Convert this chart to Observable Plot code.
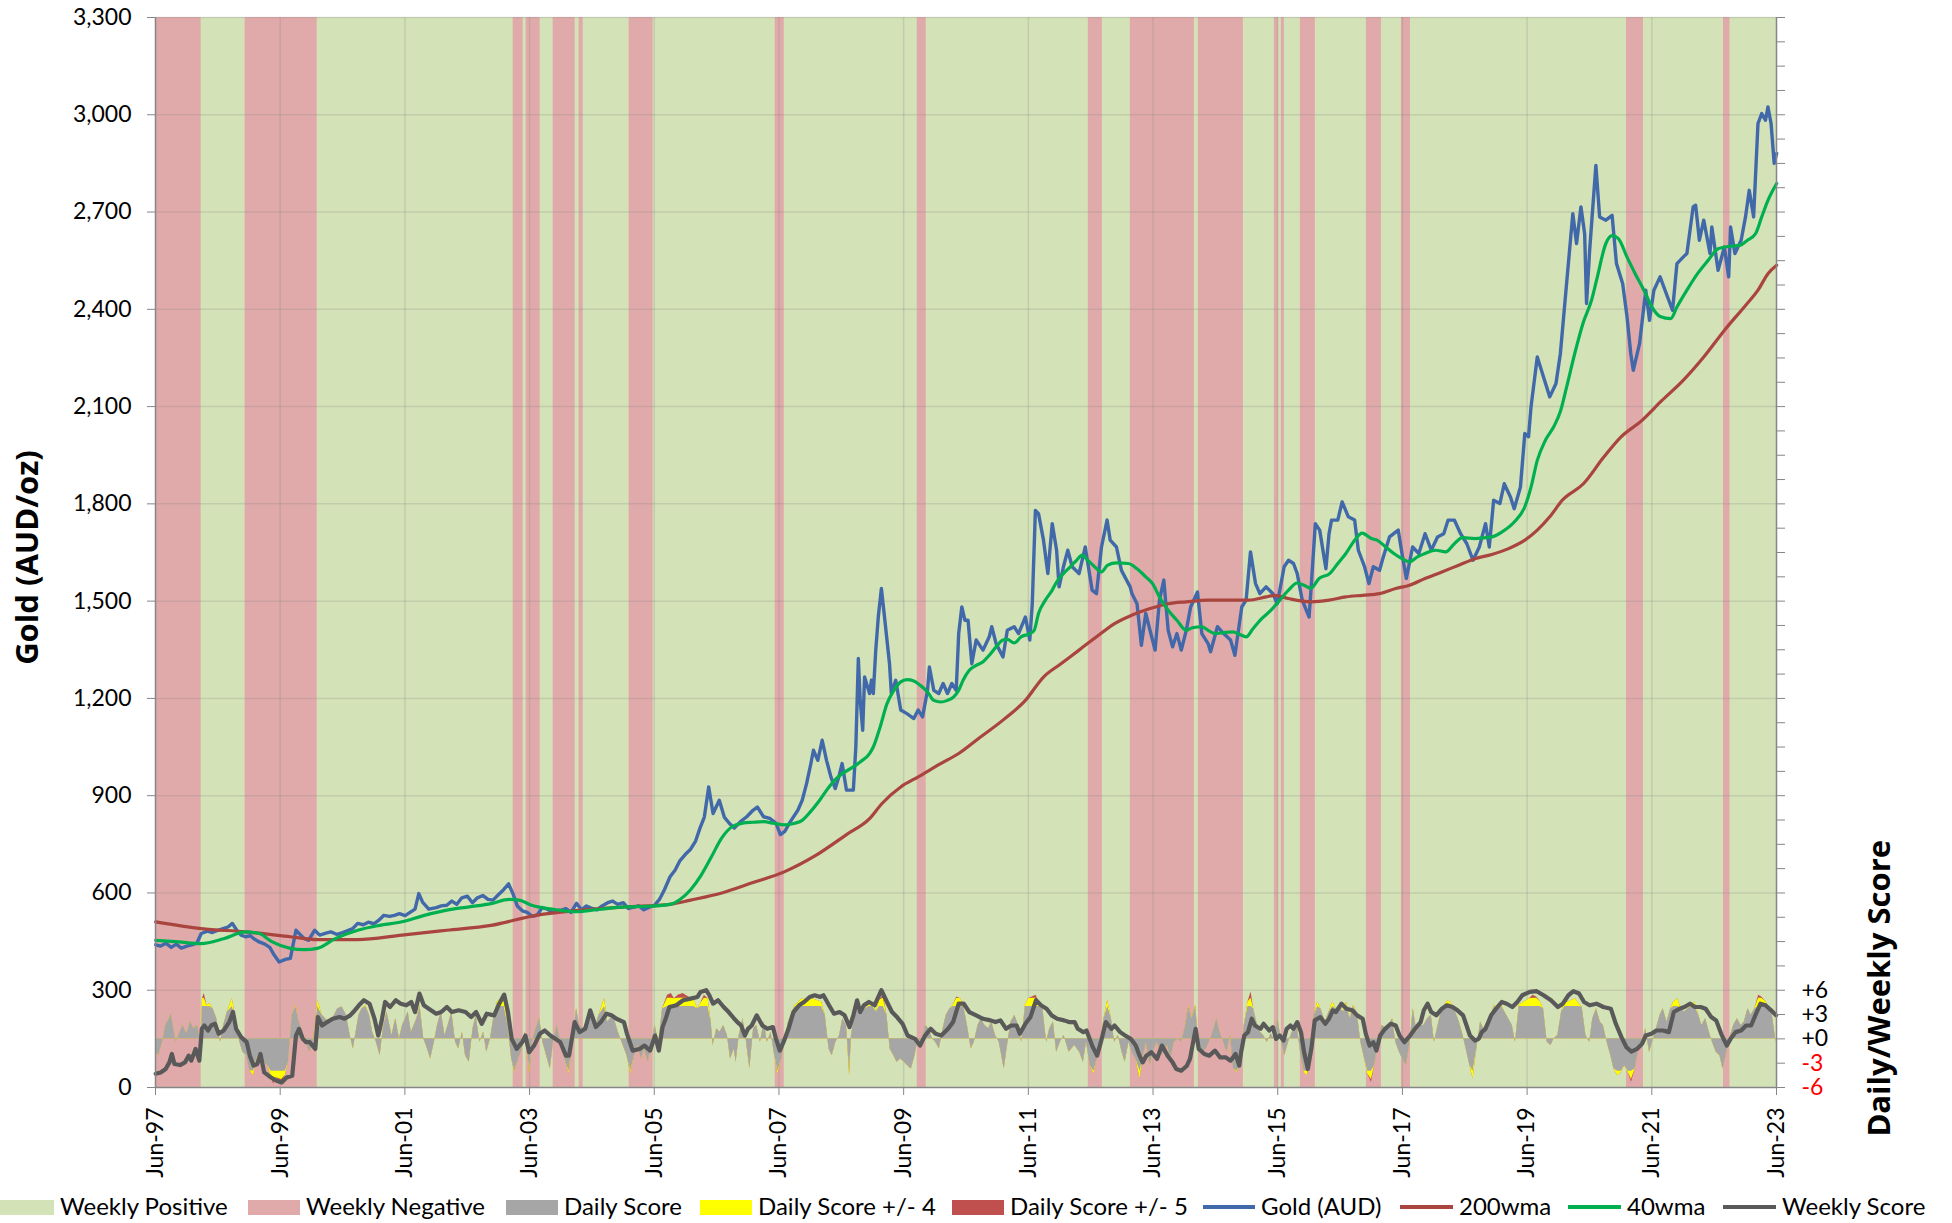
<!DOCTYPE html>
<html><head><meta charset="utf-8">
<script src="https://cdn.jsdelivr.net/npm/d3@7"></script>
<script src="https://cdn.jsdelivr.net/npm/@observablehq/plot@0.6"></script>
<style>
body{margin:0;background:#fff;font-family:Lato,"Open Sans",sans-serif;}
#wrap{position:relative;width:1952px;height:1223px;overflow:hidden;}
#legend{position:absolute;left:0;top:1190px;width:1952px;height:33px;font-size:24px;color:#000;}
.sw{position:absolute;top:10px;height:15px;}
.ln{position:absolute;top:15px;height:4px;}
.tx{position:absolute;top:3px;line-height:26px;white-space:nowrap;}
</style></head>
<body><div id="wrap"><div id="chart"></div><div id="legend"></div></div>
<script>
// ---------- data ----------
const X0 = 1997.417, X1 = 2023.417;
const xTickYears = [1997.417,1999.417,2001.417,2003.417,2005.417,2007.417,2009.417,2011.417,2013.417,2015.417,2017.417,2019.417,2021.417,2023.417];
const xTickLabels = ["Jun-97","Jun-99","Jun-01","Jun-03","Jun-05","Jun-07","Jun-09","Jun-11","Jun-13","Jun-15","Jun-17","Jun-19","Jun-21","Jun-23"];
const goldTicks = [0,300,600,900,1200,1500,1800,2100,2400,2700,3000,3300];
const scoreTicks = [-6,-3,0,3,6];
const scoreLabels = ["-6","-3","+0","+3","+6"];

// weekly negative periods (decimal years); the rest is weekly positive
const negBands = [[1997.417,1998.149],[1998.854,2000.010],[2003.154,2003.314],[2003.362,2003.587],[2003.795,2004.148],[2004.212,2004.277],[2005.014,2005.399],[2007.357,2007.502],[2009.635,2009.779],[2012.379,2012.604],[2013.053,2014.080],[2014.144,2014.866],[2015.363,2015.427],[2015.475,2015.523],[2015.780,2016.020],[2016.839,2017.080],[2017.401,2017.546],[2021.011,2021.283],[2022.567,2022.671]];

const gold = [[1997.42,440],[1997.50,436],[1997.58,445],[1997.67,432],[1997.75,442],[1997.83,430],[1997.92,436],[1998.00,440],[1998.08,445],[1998.15,475],[1998.25,482],[1998.33,478],[1998.42,485],[1998.50,490],[1998.58,495],[1998.65,506],[1998.72,485],[1998.79,470],[1998.86,465],[1998.94,468],[1999.00,458],[1999.08,449],[1999.17,442],[1999.25,432],[1999.31,412],[1999.40,387],[1999.50,395],[1999.58,398],[1999.67,485],[1999.72,475],[1999.80,460],[1999.87,454],[1999.97,485],[2000.05,470],[2000.15,476],[2000.23,480],[2000.33,472],[2000.42,478],[2000.50,484],[2000.58,490],[2000.66,506],[2000.75,502],[2000.83,510],[2000.92,505],[2001.00,516],[2001.08,531],[2001.17,528],[2001.25,531],[2001.33,536],[2001.42,530],[2001.50,540],[2001.58,550],[2001.64,598],[2001.70,572],[2001.80,550],[2001.92,555],[2002.00,560],[2002.09,562],[2002.17,575],[2002.25,565],[2002.33,585],[2002.42,590],[2002.50,570],[2002.58,585],[2002.67,592],[2002.75,580],[2002.83,578],[2002.92,595],[2003.00,610],[2003.08,628],[2003.15,598],[2003.22,560],[2003.30,545],[2003.38,540],[2003.46,528],[2003.54,532],[2003.62,555],[2003.70,550],[2003.78,540],[2003.86,545],[2003.94,548],[2004.00,552],[2004.08,540],[2004.17,568],[2004.25,548],[2004.33,560],[2004.42,552],[2004.50,548],[2004.58,560],[2004.67,570],[2004.75,575],[2004.83,565],[2004.92,570],[2005.00,552],[2005.08,556],[2005.17,560],[2005.25,548],[2005.33,555],[2005.42,562],[2005.50,580],[2005.58,610],[2005.67,650],[2005.75,670],[2005.83,700],[2005.92,720],[2006.00,735],[2006.08,760],[2006.15,800],[2006.22,834],[2006.29,927],[2006.36,845],[2006.46,886],[2006.54,834],[2006.62,815],[2006.70,800],[2006.80,820],[2006.90,835],[2007.00,855],[2007.07,865],[2007.17,835],[2007.27,830],[2007.37,815],[2007.44,780],[2007.51,790],[2007.60,820],[2007.72,855],[2007.79,886],[2007.86,937],[2007.93,1000],[2007.97,1040],[2008.04,1009],[2008.11,1071],[2008.18,1009],[2008.25,958],[2008.32,922],[2008.38,960],[2008.43,999],[2008.50,917],[2008.61,917],[2008.65,1050],[2008.69,1323],[2008.72,1194],[2008.76,1102],[2008.79,1266],[2008.87,1215],[2008.90,1256],[2008.93,1215],[2008.97,1350],[2009.01,1451],[2009.06,1539],[2009.11,1451],[2009.19,1307],[2009.22,1215],[2009.29,1256],[2009.37,1164],[2009.47,1153],[2009.58,1138],[2009.65,1164],[2009.72,1143],[2009.80,1225],[2009.83,1297],[2009.90,1225],[2009.98,1215],[2010.05,1246],[2010.12,1215],[2010.19,1246],[2010.26,1225],[2010.30,1400],[2010.35,1482],[2010.40,1441],[2010.45,1441],[2010.51,1307],[2010.58,1380],[2010.69,1349],[2010.79,1390],[2010.83,1421],[2010.90,1369],[2011.01,1328],[2011.08,1410],[2011.19,1421],[2011.26,1400],[2011.37,1451],[2011.44,1380],[2011.48,1492],[2011.53,1780],[2011.58,1770],[2011.66,1688],[2011.73,1585],[2011.80,1739],[2011.87,1657],[2011.91,1544],[2011.98,1606],[2012.05,1657],[2012.12,1606],[2012.23,1585],[2012.33,1667],[2012.44,1534],[2012.51,1523],[2012.59,1667],[2012.68,1750],[2012.73,1688],[2012.83,1667],[2012.91,1595],[2013.05,1544],[2013.08,1523],[2013.16,1492],[2013.23,1364],[2013.30,1462],[2013.45,1349],[2013.52,1503],[2013.59,1565],[2013.66,1410],[2013.73,1359],[2013.80,1400],[2013.87,1349],[2013.95,1410],[2014.02,1482],[2014.13,1528],[2014.20,1400],[2014.30,1369],[2014.34,1344],[2014.45,1421],[2014.55,1400],[2014.66,1380],[2014.73,1333],[2014.84,1482],[2014.91,1503],[2014.98,1652],[2015.06,1555],[2015.13,1523],[2015.23,1544],[2015.34,1523],[2015.41,1492],[2015.52,1606],[2015.59,1626],[2015.67,1616],[2015.73,1585],[2015.81,1503],[2015.92,1451],[2015.95,1534],[2016.02,1739],[2016.09,1719],[2016.19,1600],[2016.24,1708],[2016.28,1750],[2016.38,1750],[2016.45,1806],[2016.55,1760],[2016.65,1750],[2016.71,1657],[2016.81,1606],[2016.88,1554],[2016.95,1606],[2017.05,1595],[2017.11,1636],[2017.21,1698],[2017.35,1719],[2017.41,1647],[2017.48,1570],[2017.58,1667],[2017.68,1647],[2017.78,1708],[2017.88,1657],[2017.98,1698],[2018.08,1708],[2018.15,1750],[2018.25,1750],[2018.35,1708],[2018.45,1677],[2018.55,1626],[2018.65,1667],[2018.75,1739],[2018.81,1667],[2018.88,1811],[2018.98,1801],[2019.05,1862],[2019.15,1821],[2019.21,1785],[2019.31,1852],[2019.38,2017],[2019.44,2007],[2019.48,2100],[2019.58,2253],[2019.68,2191],[2019.78,2130],[2019.88,2171],[2019.95,2263],[2020.05,2479],[2020.15,2695],[2020.21,2603],[2020.28,2716],[2020.34,2633],[2020.37,2418],[2020.42,2582],[2020.52,2844],[2020.58,2685],[2020.68,2675],[2020.78,2690],[2020.85,2541],[2020.95,2479],[2021.02,2376],[2021.08,2263],[2021.12,2212],[2021.22,2294],[2021.32,2459],[2021.38,2366],[2021.45,2459],[2021.55,2500],[2021.65,2448],[2021.75,2397],[2021.82,2541],[2021.92,2561],[2021.98,2572],[2022.08,2716],[2022.12,2721],[2022.18,2613],[2022.25,2675],[2022.35,2572],[2022.38,2654],[2022.48,2520],[2022.58,2592],[2022.65,2500],[2022.68,2654],[2022.75,2572],[2022.85,2613],[2022.92,2685],[2022.98,2767],[2023.05,2685],[2023.12,2973],[2023.18,3004],[2023.24,2983],[2023.28,3024],[2023.33,2973],[2023.38,2850],[2023.42,2881]];

const wma40 = [[1997.42,454],[1997.79,449],[1998.15,444],[1998.51,459],[1998.86,480],[1999.08,475],[1999.29,449],[1999.58,429],[1999.80,425],[2000.01,429],[2000.30,459],[2000.66,485],[2001.01,500],[2001.37,511],[2001.73,531],[2002.09,547],[2002.45,557],[2002.80,567],[2003.09,580],[2003.25,578],[2003.45,562],[2003.81,549],[2004.17,542],[2004.52,549],[2004.95,557],[2005.31,559],[2005.67,565],[2005.83,580],[2006.00,610],[2006.17,655],[2006.33,710],[2006.50,770],[2006.67,805],[2006.83,815],[2007.00,818],[2007.17,820],[2007.33,815],[2007.50,810],[2007.67,815],[2007.79,824],[2007.92,850],[2008.07,886],[2008.22,927],[2008.43,968],[2008.57,984],[2008.72,1004],[2008.87,1030],[2008.93,1050],[2009.04,1112],[2009.15,1184],[2009.26,1225],[2009.37,1251],[2009.47,1258],[2009.58,1254],[2009.68,1241],[2009.80,1220],[2009.90,1194],[2010.01,1189],[2010.12,1194],[2010.22,1205],[2010.30,1225],[2010.37,1256],[2010.47,1287],[2010.58,1302],[2010.69,1313],[2010.79,1333],[2010.90,1359],[2011.01,1380],[2011.08,1382],[2011.19,1371],[2011.30,1390],[2011.44,1400],[2011.51,1410],[2011.58,1462],[2011.69,1503],[2011.80,1534],[2011.87,1559],[2011.98,1585],[2012.09,1606],[2012.19,1626],[2012.28,1642],[2012.37,1626],[2012.48,1606],[2012.59,1590],[2012.69,1611],[2012.83,1618],[2013.02,1616],[2013.16,1600],[2013.30,1575],[2013.41,1554],[2013.52,1513],[2013.66,1472],[2013.80,1441],[2013.95,1410],[2014.05,1418],[2014.20,1421],[2014.30,1410],[2014.41,1400],[2014.55,1403],[2014.70,1405],[2014.80,1398],[2014.91,1390],[2015.02,1415],[2015.16,1446],[2015.31,1472],[2015.45,1503],[2015.59,1534],[2015.73,1556],[2015.84,1549],[2015.95,1540],[2016.08,1570],[2016.25,1585],[2016.38,1616],[2016.51,1647],[2016.65,1688],[2016.77,1710],[2016.92,1693],[2017.01,1688],[2017.15,1667],[2017.28,1647],[2017.41,1631],[2017.53,1621],[2017.65,1636],[2017.78,1647],[2017.95,1657],[2018.11,1652],[2018.25,1677],[2018.38,1696],[2018.58,1693],[2018.75,1696],[2018.85,1698],[2019.01,1713],[2019.21,1744],[2019.38,1791],[2019.48,1852],[2019.58,1934],[2019.71,1996],[2019.85,2040],[2019.95,2085],[2020.05,2160],[2020.18,2263],[2020.32,2361],[2020.45,2428],[2020.53,2489],[2020.68,2603],[2020.78,2627],[2020.88,2618],[2021.02,2561],[2021.15,2510],[2021.29,2459],[2021.42,2407],[2021.55,2378],[2021.72,2371],[2021.82,2407],[2021.98,2459],[2022.15,2510],[2022.32,2551],[2022.48,2587],[2022.65,2594],[2022.82,2597],[2022.95,2613],[2023.08,2633],[2023.18,2685],[2023.28,2736],[2023.42,2788]];

const wma200 = [[1997.42,511],[1998.15,490],[1998.86,480],[1999.58,465],[2000.01,456],[2000.66,456],[2001.37,470],[2002.09,485],[2002.80,500],[2003.52,531],[2004.24,547],[2004.95,557],[2005.67,565],[2006.00,578],[2006.50,600],[2007.00,632],[2007.50,665],[2008.00,715],[2008.50,780],[2008.87,829],[2009.07,876],[2009.37,927],[2009.65,958],[2010.01,999],[2010.30,1030],[2010.65,1081],[2011.01,1133],[2011.37,1194],[2011.66,1266],[2011.94,1307],[2012.23,1349],[2012.51,1390],[2012.80,1431],[2013.08,1457],[2013.37,1477],[2013.66,1492],[2013.95,1498],[2014.30,1503],[2014.66,1503],[2014.95,1503],[2015.23,1513],[2015.37,1518],[2015.59,1508],[2015.95,1498],[2016.24,1503],[2016.51,1513],[2016.78,1518],[2017.05,1523],[2017.31,1539],[2017.53,1549],[2017.78,1570],[2018.05,1590],[2018.32,1611],[2018.58,1631],[2018.85,1644],[2019.12,1662],[2019.38,1688],[2019.58,1719],[2019.78,1760],[2019.98,1811],[2020.32,1862],[2020.65,1945],[2020.92,2006],[2021.25,2056],[2021.58,2119],[2021.92,2181],[2022.25,2253],[2022.58,2335],[2022.92,2412],[2023.12,2459],[2023.28,2510],[2023.42,2536]];

// weekly score (-6..+6)
const weeklyScore = [[1997.42,-4.3],[1997.50,-4.14],[1997.58,-3.72],[1997.64,-2.90],[1997.68,-1.86],[1997.72,-3.10],[1997.81,-3.23],[1997.89,-2.90],[1997.95,-2.07],[1997.99,-2.69],[1998.06,-1.24],[1998.12,-2.69],[1998.16,1.24],[1998.20,1.65],[1998.26,1.03],[1998.31,1.65],[1998.37,1.86],[1998.43,0.62],[1998.51,1.03],[1998.60,2.07],[1998.66,3.31],[1998.71,1.24],[1998.79,0.21],[1998.88,-0.41],[1998.93,-2.07],[1998.99,-3.31],[1999.05,-3.10],[1999.10,-1.86],[1999.16,-4.14],[1999.27,-4.76],[1999.36,-5.17],[1999.44,-5.38],[1999.52,-4.76],[1999.61,-4.55],[1999.67,0.41],[1999.72,1.24],[1999.78,0],[1999.83,-0.41],[1999.89,-0.41],[1999.98,-1.24],[2000.02,2.69],[2000.09,1.65],[2000.17,2.07],[2000.26,2.48],[2000.37,2.69],[2000.45,2.48],[2000.54,2.90],[2000.59,3.31],[2000.68,4.14],[2000.76,4.76],[2000.85,4.34],[2000.93,2.48],[2000.99,0.41],[2001.04,2.07],[2001.10,4.55],[2001.18,3.93],[2001.27,4.76],[2001.35,4.34],[2001.44,4.14],[2001.52,4.55],[2001.58,3.31],[2001.65,5.59],[2001.72,4.14],[2001.80,3.72],[2001.92,3.10],[2002.00,3.31],[2002.09,3.93],[2002.17,3.31],[2002.28,3.52],[2002.39,3.31],[2002.48,2.69],[2002.56,3.31],[2002.65,1.86],[2002.73,3.10],[2002.85,2.90],[2002.93,4.34],[2003.01,5.46],[2003.07,3.31],[2003.13,0],[2003.21,-1.24],[2003.30,-0.41],[2003.35,0.41],[2003.41,-1.65],[2003.49,-0.83],[2003.58,0.62],[2003.66,1.03],[2003.75,0.41],[2003.83,0],[2003.91,-0.41],[2004.00,-2.07],[2004.05,-2.07],[2004.14,2.07],[2004.22,0.83],[2004.31,1.24],[2004.39,3.52],[2004.48,1.45],[2004.56,2.07],[2004.65,3.10],[2004.73,2.90],[2004.81,2.48],[2004.93,2.07],[2004.98,0.62],[2005.07,-1.45],[2005.18,-1.24],[2005.26,-0.83],[2005.35,-1.45],[2005.43,0.41],[2005.49,-1.45],[2005.55,1.45],[2005.60,2.48],[2005.66,3.93],[2005.77,4.14],[2005.88,4.76],[2006.00,4.96],[2006.11,5.17],[2006.16,5.79],[2006.25,6.0],[2006.30,5.38],[2006.36,4.34],[2006.44,4.76],[2006.53,3.93],[2006.61,3.31],[2006.70,2.48],[2006.75,2.07],[2006.81,1.65],[2006.87,0.41],[2006.92,1.24],[2006.98,1.65],[2007.06,2.90],[2007.15,1.65],[2007.23,1.24],[2007.32,1.45],[2007.37,0],[2007.43,-1.45],[2007.49,-0.41],[2007.57,1.24],[2007.65,3.31],[2007.74,4.14],[2007.82,4.55],[2007.91,5.17],[2007.99,5.38],[2008.08,5.17],[2008.13,5.38],[2008.22,4.14],[2008.30,3.10],[2008.39,3.31],[2008.47,2.90],[2008.55,1.45],[2008.61,2.90],[2008.67,4.76],[2008.72,3.31],[2008.78,4.14],[2008.86,4.55],[2008.95,4.14],[2009.06,6.0],[2009.15,4.55],[2009.23,3.31],[2009.31,2.69],[2009.40,1.86],[2009.48,0.41],[2009.60,0],[2009.68,-0.83],[2009.76,0.41],[2009.85,1.24],[2009.93,0.62],[2010.02,0.41],[2010.13,1.24],[2010.21,2.07],[2010.30,4.34],[2010.38,4.34],[2010.47,3.31],[2010.58,2.90],[2010.69,2.48],[2010.81,2.28],[2010.89,2.07],[2010.97,2.28],[2011.06,1.24],[2011.14,1.65],[2011.23,1.65],[2011.28,0.62],[2011.37,1.86],[2011.45,2.69],[2011.54,4.76],[2011.62,4.14],[2011.71,3.72],[2011.79,2.90],[2011.88,2.48],[2011.99,2.28],[2012.07,2.07],[2012.16,2.07],[2012.21,1.24],[2012.30,0.83],[2012.35,1.03],[2012.44,-0.83],[2012.52,-2.07],[2012.58,-0.41],[2012.66,2.07],[2012.75,1.24],[2012.80,1.65],[2012.89,0.83],[2012.97,0.41],[2013.06,0],[2013.14,-0.83],[2013.20,-2.07],[2013.25,-2.90],[2013.31,-2.07],[2013.39,-1.65],[2013.48,-2.48],[2013.56,-0.83],[2013.65,-2.07],[2013.73,-2.90],[2013.79,-3.72],[2013.87,-3.93],[2013.96,-3.31],[2014.01,-2.48],[2014.10,1.24],[2014.15,-1.24],[2014.24,-1.86],[2014.32,-2.07],[2014.41,-1.45],[2014.49,-2.28],[2014.58,-2.28],[2014.66,-2.69],[2014.74,-1.86],[2014.80,-3.31],[2014.83,-1.65],[2014.88,0.41],[2014.94,0.83],[2015.00,2.48],[2015.05,1.65],[2015.14,1.24],[2015.19,1.86],[2015.28,1.03],[2015.34,1.45],[2015.39,0],[2015.45,0.41],[2015.51,-0.21],[2015.56,1.24],[2015.62,1.65],[2015.67,1.24],[2015.73,2.07],[2015.79,0.83],[2015.84,-1.65],[2015.90,-3.72],[2015.96,-1.03],[2016.01,2.28],[2016.10,2.69],[2016.18,1.86],[2016.24,2.48],[2016.30,3.52],[2016.35,3.31],[2016.44,4.34],[2016.52,3.72],[2016.61,3.52],[2016.69,2.90],[2016.78,2.48],[2016.83,0.62],[2016.89,-0.83],[2016.95,-0.41],[2017.00,-1.45],[2017.06,0.41],[2017.14,1.24],[2017.23,1.86],[2017.31,1.65],[2017.37,0.41],[2017.45,-0.41],[2017.54,0.41],[2017.62,1.24],[2017.71,2.07],[2017.76,3.52],[2017.82,4.34],[2017.88,3.31],[2017.96,2.90],[2018.05,3.72],[2018.13,4.14],[2018.22,3.93],[2018.30,3.52],[2018.39,2.90],[2018.50,0.41],[2018.58,-0.21],[2018.64,0],[2018.69,0.83],[2018.75,1.24],[2018.84,2.90],[2018.92,3.72],[2019.01,4.55],[2019.09,4.34],[2019.18,3.93],[2019.26,4.55],[2019.34,5.38],[2019.46,5.79],[2019.57,5.88],[2019.68,5.38],[2019.80,4.76],[2019.91,3.93],[2019.99,4.34],[2020.08,5.38],[2020.16,5.88],[2020.25,5.59],[2020.33,4.55],[2020.42,4.14],[2020.53,4.34],[2020.64,3.93],[2020.76,3.72],[2020.84,1.86],[2020.93,0.21],[2021.01,-1.03],[2021.09,-1.57],[2021.18,-1.24],[2021.26,-0.62],[2021.32,0.41],[2021.41,0.62],[2021.49,1.03],[2021.60,1.03],[2021.69,0.83],[2021.77,3.31],[2021.86,3.72],[2021.94,3.93],[2022.03,4.34],[2022.11,3.93],[2022.20,3.93],[2022.28,3.72],[2022.37,2.69],[2022.45,2.28],[2022.53,0.62],[2022.62,-0.83],[2022.68,0],[2022.76,0.83],[2022.85,1.03],[2022.93,1.65],[2023.01,1.65],[2023.10,3.31],[2023.16,4.34],[2023.24,4.14],[2023.33,3.52],[2023.41,2.90]];

// daily score (-6..+6)
const dailyScore = [[1997.42,-1.65],[1997.47,-2.07],[1997.53,-0.41],[1997.58,1.65],[1997.64,2.48],[1997.67,3.10],[1997.71,1.24],[1997.75,-0.41],[1997.81,0.83],[1997.86,1.65],[1997.92,0.62],[1997.98,2.07],[1998.03,1.24],[1998.09,1.65],[1998.15,-0.41],[1998.17,4.96],[1998.20,5.59],[1998.24,4.14],[1998.29,4.34],[1998.34,3.72],[1998.40,2.48],[1998.46,-0.41],[1998.51,1.65],[1998.57,3.31],[1998.65,4.96],[1998.71,2.07],[1998.77,-0.41],[1998.82,-1.65],[1998.88,-2.07],[1998.93,-3.93],[1998.99,-4.55],[1999.05,-2.28],[1999.10,-1.65],[1999.16,-2.90],[1999.22,-3.31],[1999.27,-4.55],[1999.31,-5.6],[1999.36,-4.8],[1999.44,-5.4],[1999.50,-4.5],[1999.55,-2.90],[1999.61,2.90],[1999.67,4.14],[1999.72,2.07],[1999.78,0.83],[1999.83,-0.41],[1999.89,-1.65],[1999.95,-0.41],[2000.02,4.76],[2000.09,2.90],[2000.17,2.28],[2000.26,2.48],[2000.34,3.72],[2000.41,3.93],[2000.48,2.90],[2000.54,0.41],[2000.59,-1.24],[2000.68,2.90],[2000.73,3.72],[2000.79,4.14],[2000.85,2.90],[2000.90,0.83],[2000.96,-0.41],[2001.02,-2.07],[2001.07,1.24],[2001.13,3.31],[2001.21,0.41],[2001.27,2.48],[2001.33,0],[2001.38,1.65],[2001.47,3.31],[2001.52,0.83],[2001.61,2.48],[2001.66,4.14],[2001.72,0],[2001.78,-1.24],[2001.83,-2.48],[2001.89,-0.41],[2001.94,1.65],[2002.00,3.31],[2002.06,0.41],[2002.11,1.65],[2002.17,3.31],[2002.23,-0.41],[2002.28,-1.24],[2002.34,0.83],[2002.39,-2.07],[2002.45,-2.90],[2002.51,1.24],[2002.56,2.90],[2002.62,-0.41],[2002.68,0.83],[2002.73,-1.65],[2002.79,0],[2002.85,2.90],[2002.90,4.55],[2002.96,4.96],[2003.01,5.38],[2003.07,1.65],[2003.13,-2.48],[2003.18,-4.14],[2003.24,-2.48],[2003.30,-1.24],[2003.35,0.83],[2003.42,-4.34],[2003.46,-0.41],[2003.52,1.24],[2003.58,2.48],[2003.63,-0.41],[2003.69,-2.07],[2003.75,-3.72],[2003.80,-0.41],[2003.86,1.65],[2003.94,-1.24],[2004.00,-2.90],[2004.05,-4.34],[2004.11,-0.41],[2004.17,3.72],[2004.22,1.65],[2004.28,1.24],[2004.36,2.48],[2004.42,3.31],[2004.48,1.65],[2004.53,2.90],[2004.62,4.96],[2004.67,2.07],[2004.76,2.90],[2004.84,0.83],[2004.93,-1.03],[2004.98,-2.07],[2005.04,-4.34],[2005.10,-2.07],[2005.15,-0.83],[2005.21,-2.48],[2005.26,-1.24],[2005.32,-2.90],[2005.38,-0.41],[2005.43,1.65],[2005.49,-0.41],[2005.55,3.72],[2005.63,5.38],[2005.69,5.59],[2005.74,4.96],[2005.80,5.38],[2005.88,5.59],[2005.97,5.17],[2006.05,4.96],[2006.11,3.72],[2006.16,4.34],[2006.22,5.38],[2006.28,4.96],[2006.33,2.07],[2006.36,-0.83],[2006.42,1.24],[2006.47,0.83],[2006.53,1.65],[2006.59,0.41],[2006.64,-2.48],[2006.70,-1.24],[2006.73,-2.90],[2006.78,0.41],[2006.84,2.48],[2006.89,0],[2006.95,-3.72],[2007.01,1.24],[2007.06,1.65],[2007.12,-0.41],[2007.18,2.07],[2007.23,-0.41],[2007.29,0.83],[2007.34,-1.65],[2007.40,-4.34],[2007.46,-2.48],[2007.51,-0.41],[2007.57,2.07],[2007.63,3.31],[2007.68,4.14],[2007.74,4.55],[2007.79,4.96],[2007.85,4.76],[2007.94,4.96],[2008.02,4.76],[2008.10,4.55],[2008.16,2.90],[2008.22,-1.24],[2008.27,-2.07],[2008.33,-0.41],[2008.39,0.41],[2008.44,2.48],[2008.50,1.65],[2008.55,-4.55],[2008.58,0.41],[2008.64,3.31],[2008.69,4.55],[2008.75,3.31],[2008.81,3.72],[2008.86,4.14],[2008.92,4.55],[2008.98,3.31],[2009.03,4.76],[2009.09,5.38],[2009.15,2.90],[2009.20,-1.24],[2009.26,-2.07],[2009.31,-2.90],[2009.37,-2.48],[2009.43,-2.90],[2009.48,-3.31],[2009.54,-3.72],[2009.60,-2.07],[2009.65,0],[2009.71,-0.41],[2009.77,1.65],[2009.82,1.24],[2009.88,0],[2009.93,-0.41],[2009.99,-1.24],[2010.05,1.24],[2010.10,2.90],[2010.16,3.72],[2010.21,4.14],[2010.27,5.17],[2010.33,4.96],[2010.38,4.14],[2010.44,1.65],[2010.50,-1.24],[2010.55,-0.41],[2010.61,1.65],[2010.66,2.48],[2010.72,1.65],[2010.78,1.24],[2010.83,2.07],[2010.89,0.41],[2010.95,-0.41],[2011.00,-2.48],[2011.03,-3.72],[2011.09,-0.41],[2011.14,2.07],[2011.20,2.90],[2011.26,1.65],[2011.31,-0.41],[2011.37,4.14],[2011.42,4.96],[2011.48,5.17],[2011.54,5.38],[2011.59,4.55],[2011.65,3.72],[2011.71,-0.41],[2011.76,1.24],[2011.82,2.07],[2011.87,-1.65],[2011.93,-0.41],[2011.99,0.41],[2012.07,-1.65],[2012.16,-0.83],[2012.24,-1.65],[2012.30,-2.90],[2012.35,-0.41],[2012.41,-3.31],[2012.47,-4.34],[2012.52,-2.48],[2012.58,-0.41],[2012.63,2.48],[2012.69,4.76],[2012.75,2.48],[2012.80,-0.41],[2012.86,0.41],[2012.92,-1.65],[2012.97,-2.90],[2013.03,-0.41],[2013.08,-1.65],[2013.14,-2.48],[2013.21,-4.96],[2013.25,-2.48],[2013.31,-0.41],[2013.37,-3.31],[2013.42,-1.65],[2013.48,-0.41],[2013.56,-2.07],[2013.65,-0.83],[2013.70,-2.48],[2013.76,-0.41],[2013.82,0],[2013.87,-0.41],[2013.93,1.24],[2013.99,4.14],[2014.04,2.48],[2014.10,4.14],[2014.15,-0.41],[2014.21,-1.65],[2014.27,-1.24],[2014.32,-0.41],[2014.38,0.83],[2014.44,2.48],[2014.49,0.83],[2014.55,-0.41],[2014.60,-1.65],[2014.66,0.41],[2014.71,-3.72],[2014.77,-4.14],[2014.83,-2.48],[2014.88,1.65],[2014.94,4.55],[2014.99,5.79],[2015.03,3.72],[2015.08,2.07],[2015.14,0.83],[2015.19,0.41],[2015.25,-0.41],[2015.31,0.62],[2015.36,0],[2015.42,2.48],[2015.48,-0.41],[2015.53,-2.07],[2015.59,-0.41],[2015.65,0.83],[2015.73,1.65],[2015.79,-2.07],[2015.84,-4.14],[2015.89,-4.55],[2015.95,-2.48],[2016.00,2.90],[2016.06,4.55],[2016.11,3.72],[2016.18,2.07],[2016.24,3.31],[2016.30,4.55],[2016.35,3.72],[2016.41,4.14],[2016.47,3.31],[2016.52,4.55],[2016.58,2.48],[2016.63,4.14],[2016.69,3.31],[2016.75,-0.41],[2016.80,-2.07],[2016.86,-4.34],[2016.92,-5.38],[2016.97,-3.31],[2017.03,-0.41],[2017.09,1.65],[2017.17,1.24],[2017.26,2.48],[2017.31,-0.41],[2017.37,-1.65],[2017.42,-2.48],[2017.48,-3.31],[2017.54,-0.41],[2017.59,3.72],[2017.65,0.83],[2017.71,1.65],[2017.76,1.65],[2017.82,2.48],[2017.88,2.90],[2017.93,-0.41],[2017.99,1.65],[2018.05,3.72],[2018.10,4.14],[2018.16,4.76],[2018.22,4.14],[2018.27,3.31],[2018.33,2.07],[2018.39,0.41],[2018.44,-1.24],[2018.50,-3.31],[2018.55,-4.96],[2018.61,-1.24],[2018.67,2.07],[2018.72,1.24],[2018.78,2.07],[2018.84,2.90],[2018.89,4.14],[2018.95,3.72],[2019.01,4.14],[2019.06,3.31],[2019.12,2.48],[2019.18,1.65],[2019.23,-0.41],[2019.29,4.14],[2019.37,4.55],[2019.46,4.96],[2019.51,5.38],[2019.57,5.17],[2019.63,4.55],[2019.68,3.72],[2019.74,-0.41],[2019.80,-0.83],[2019.85,0],[2019.91,0.41],[2019.97,3.31],[2020.02,4.55],[2020.08,4.55],[2020.14,4.76],[2020.19,4.96],[2020.25,4.34],[2020.30,3.93],[2020.36,0.41],[2020.42,-0.41],[2020.47,2.48],[2020.53,3.72],[2020.59,2.07],[2020.64,1.65],[2020.70,-0.41],[2020.76,-2.07],[2020.81,-3.72],[2020.87,-4.55],[2020.93,-4.14],[2020.98,-3.31],[2021.04,-4.14],[2021.09,-5.38],[2021.15,-3.72],[2021.21,-1.24],[2021.26,-0.41],[2021.32,1.24],[2021.38,-1.65],[2021.43,-0.41],[2021.49,1.24],[2021.55,2.90],[2021.60,3.72],[2021.66,2.07],[2021.72,3.72],[2021.77,4.55],[2021.83,4.96],[2021.89,3.72],[2021.94,3.31],[2022.00,3.72],[2022.06,4.14],[2022.11,4.55],[2022.17,2.90],[2022.22,1.65],[2022.28,2.48],[2022.34,0.83],[2022.39,-0.41],[2022.45,-1.65],[2022.51,-2.07],[2022.56,-3.72],[2022.62,-1.65],[2022.68,0.41],[2022.73,1.65],[2022.79,2.48],[2022.85,1.65],[2022.90,2.07],[2022.96,3.72],[2023.01,2.90],[2023.07,3.72],[2023.13,5.38],[2023.18,5.17],[2023.25,4.55],[2023.30,3.72],[2023.35,2.90],[2023.41,-0.41]];

// ---------- drawing ----------
const scoreToGold = s => 150 + 25 * s;          // right-hand score axis shares the plot: -6..+6 -> 0..300
const clampS = (s, m) => Math.max(-m, Math.min(m, s));
const F = "Lato, 'Open Sans', sans-serif";
const FT = "'Open Sans', Lato, sans-serif";
const AX = "#868686";

const chart = Plot.plot({
  width: 1952, height: 1190,
  marginTop: 17, marginBottom: 103, marginLeft: 155, marginRight: 176,
  style: {fontFamily: F, background: "#fff", overflow: "visible"},
  x: {type: "linear", domain: [X0, X1], axis: null},
  y: {domain: [0, 3300], axis: null},
  marks: [
    Plot.rect([[X0, X1]], {x1: d => d[0], x2: d => d[1], y1: 0, y2: 3300, fill: "#D4E2B8"}),
    Plot.rect(negBands, {x1: d => d[0], x2: d => d[1], y1: 0, y2: 3300, fill: "#E1AAAA"}),
    Plot.ruleY(goldTicks.slice(1), {stroke: "#7f7f7f", strokeOpacity: 0.22, strokeWidth: 1.5}),
    Plot.ruleX(xTickYears.slice(1, -1), {y1: 0, y2: 3300, stroke: "#7f7f7f", strokeOpacity: 0.22, strokeWidth: 1.5}),
    // daily score areas: red (beyond ±5), yellow (±4..±5), grey (within ±4)
    Plot.areaY(dailyScore, {x: d => d[0], y1: 150, y2: d => scoreToGold(d[1]), fill: "#C0504D"}),
    Plot.areaY(dailyScore, {x: d => d[0], y1: 150, y2: d => scoreToGold(clampS(d[1], 5)), fill: "#FFFF00"}),
    Plot.areaY(dailyScore, {x: d => d[0], y1: 150, y2: d => scoreToGold(clampS(d[1], 4)), fill: "#A6A6A6"}),
    Plot.line(gold, {x: d => d[0], y: d => d[1], stroke: "#4169AA", strokeWidth: 3.4, strokeLinejoin: "round"}),
    Plot.line(wma200, {x: d => d[0], y: d => d[1], stroke: "#A9443E", strokeWidth: 3.2, curve: "monotone-x"}),
    Plot.line(wma40, {x: d => d[0], y: d => d[1], stroke: "#00B050", strokeWidth: 3.2, curve: "monotone-x"}),
    Plot.line(weeklyScore, {x: d => d[0], y: d => scoreToGold(d[1]), stroke: "#595959", strokeWidth: 4.2, strokeLinejoin: "round"}),
    // axes
    Plot.ruleX([X0], {y1: 0, y2: 3300, stroke: AX, strokeWidth: 1.5}),
    Plot.ruleX([X1], {y1: 0, y2: 3300, stroke: AX, strokeWidth: 1.5}),
    Plot.ruleY([0], {stroke: AX, strokeWidth: 1.5}),
    Plot.axisY({anchor: "left", ticks: goldTicks, tickFormat: d3.format(","), tickSize: 8, tickPadding: 16, fontSize: 23, stroke: AX, color: "#000", label: null}),
    Plot.axisY({anchor: "right", ticks: d3.range(0, 3301, 75), tickFormat: () => "", tickSize: 8, stroke: AX, label: null}),
    Plot.axisX({anchor: "bottom", ticks: xTickYears, tickFormat: () => "", tickSize: 8, stroke: AX, label: null}),
    Plot.text(xTickYears, {x: d => d, y: 0, text: (d, i) => xTickLabels[i], rotate: -90, textAnchor: "end", dy: 20, fontSize: 23, fill: "#000"}),
    Plot.text(scoreTicks.filter(s => s >= 0), {x: X1, y: s => scoreToGold(s), text: s => scoreLabels[scoreTicks.indexOf(s)], textAnchor: "start", dx: 25, fontSize: 23, fill: "#000"}),
    Plot.text(scoreTicks.filter(s => s < 0), {x: X1, y: s => scoreToGold(s), text: s => scoreLabels[scoreTicks.indexOf(s)], textAnchor: "start", dx: 25, fontSize: 23, fill: "#FF0000"}),
    Plot.text(["Gold (AUD/oz)"], {frameAnchor: "left", textAnchor: "middle", text: d => d, rotate: -90, dx: -127, dy: 5, fontSize: 31, fontWeight: "bold", fontFamily: FT, fill: "#000"}),
    Plot.text(["Daily/Weekly Score"], {x: X1, y: 306, textAnchor: "middle", text: d => d, rotate: -90, dx: 104, fontSize: 31, fontWeight: "bold", fontFamily: FT, fill: "#000"})
  ]
});
document.getElementById("chart").appendChild(chart);

// ---------- legend ----------
const legendItems = [
  {label: "Weekly Positive", kind: "sw", color: "#D4E2B8", x: 0, w: 54},
  {label: "Weekly Negative", kind: "sw", color: "#E1AAAA", x: 248, w: 52},
  {label: "Daily Score", kind: "sw", color: "#A6A6A6", x: 506, w: 52},
  {label: "Daily Score +/- 4", kind: "sw", color: "#FFFF00", x: 700, w: 52},
  {label: "Daily Score +/- 5", kind: "sw", color: "#C0504D", x: 952, w: 52},
  {label: "Gold (AUD)", kind: "ln", color: "#4169AA", x: 1203, w: 52},
  {label: "200wma", kind: "ln", color: "#A9443E", x: 1400, w: 53},
  {label: "40wma", kind: "ln", color: "#00B050", x: 1568, w: 53},
  {label: "Weekly Score", kind: "ln", color: "#595959", x: 1723, w: 53}
];
const lg = document.getElementById("legend");
for (const it of legendItems) {
  const s = document.createElement("div");
  s.className = it.kind;
  s.style.left = it.x + "px"; s.style.width = it.w + "px"; s.style.background = it.color;
  lg.appendChild(s);
  const t = document.createElement("div");
  t.className = "tx"; t.style.left = (it.x + it.w + 6) + "px"; t.textContent = it.label;
  lg.appendChild(t);
}
</script></body></html>
